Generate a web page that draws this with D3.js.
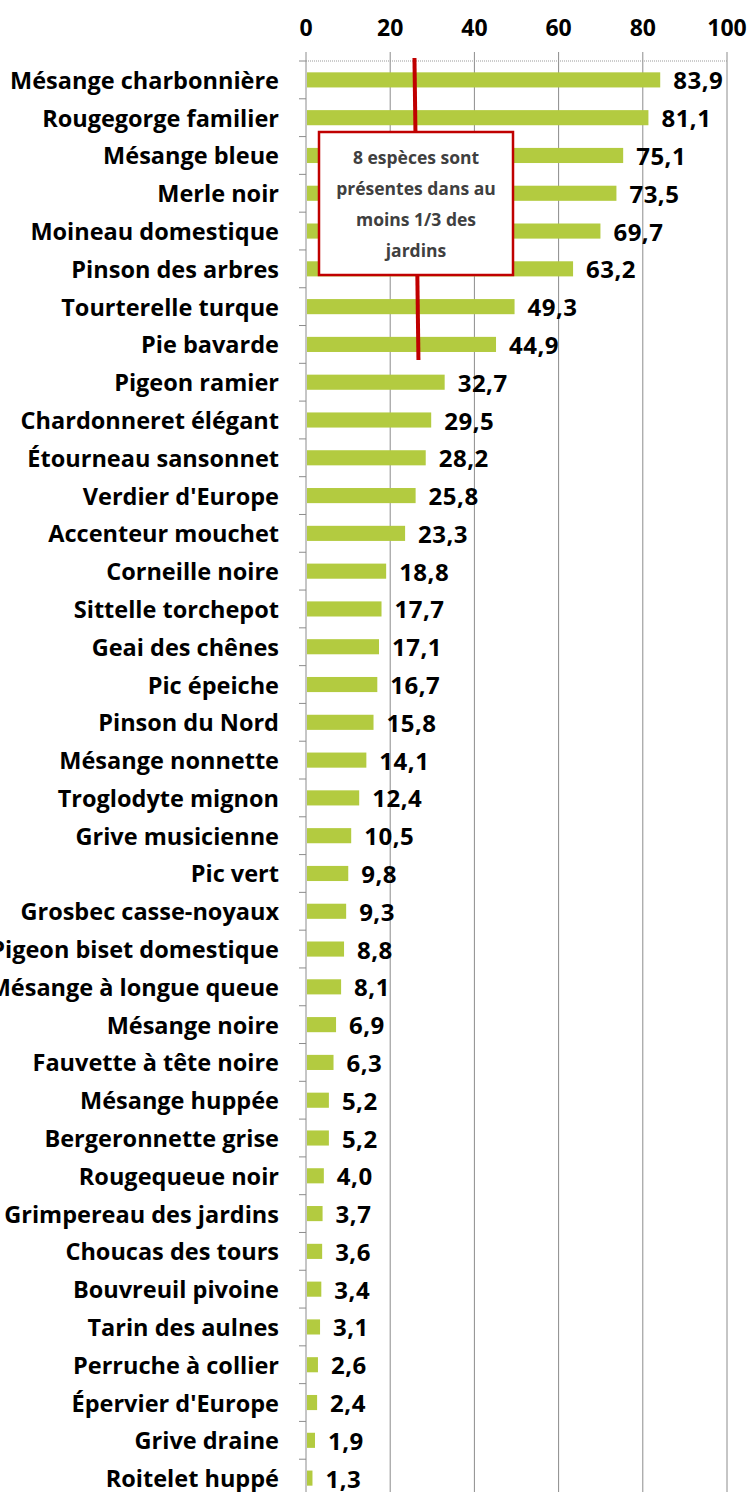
<!DOCTYPE html>
<html>
<head>
<meta charset="utf-8">
<script src="https://cdn.jsdelivr.net/npm/d3@7"></script>
<style>
  body { margin: 0; background: #fff; }
  text { font-family: "Open Sans", sans-serif; font-weight: 700; }
</style>
</head>
<body>
<svg id="chart" width="749" height="1492"></svg>
<script>
// species and share of gardens (%)
const species = [
  "Mésange charbonnière", "Rougegorge familier", "Mésange bleue", "Merle noir",
  "Moineau domestique", "Pinson des arbres", "Tourterelle turque", "Pie bavarde",
  "Pigeon ramier", "Chardonneret élégant", "Étourneau sansonnet", "Verdier d'Europe",
  "Accenteur mouchet", "Corneille noire", "Sittelle torchepot", "Geai des chênes",
  "Pic épeiche", "Pinson du Nord", "Mésange nonnette", "Troglodyte mignon",
  "Grive musicienne", "Pic vert", "Grosbec casse-noyaux", "Pigeon biset domestique",
  "Mésange à longue queue", "Mésange noire", "Fauvette à tête noire", "Mésange huppée",
  "Bergeronnette grise", "Rougequeue noir", "Grimpereau des jardins", "Choucas des tours",
  "Bouvreuil pivoine", "Tarin des aulnes", "Perruche à collier", "Épervier d'Europe",
  "Grive draine", "Roitelet huppé"
];
const values = [
  83.9, 81.1, 75.1, 73.5, 69.7, 63.2, 49.3, 44.9,
  32.7, 29.5, 28.2, 25.8, 23.3, 18.8, 17.7, 17.1,
  16.7, 15.8, 14.1, 12.4, 10.5, 9.8, 9.3, 8.8,
  8.1, 6.9, 6.3, 5.2, 5.2, 4.0, 3.7, 3.6,
  3.4, 3.1, 2.6, 2.4, 1.9, 1.3
];
const xTicks = [0, 20, 40, 60, 80, 100];
const noteLines = ["8 espèces sont", "présentes dans au", "moins 1/3 des", "jardins"];
const noteValue = 26; // where the red marker crosses the axis

const data = species.map((s, i) => ({name: s, value: values[i]}));

const svg = d3.select('#chart');
const plotL = 306, plotR = 727, plotT = 61, plotB = 1497;

const x = d3.scaleLinear().domain([0, 100]).range([plotL, plotR]);
const y = d3.scaleBand().domain(species).range([plotT, plotB]);
const fmt = d => d.toFixed(1).replace('.', ',');

// vertical gridlines
svg.append('g')
  .selectAll('line')
  .data(xTicks.slice(1))
  .enter().append('line')
  .attr('x1', d => x(d)).attr('x2', d => x(d))
  .attr('y1', plotT - 9).attr('y2', plotB)
  .attr('stroke', '#8c8c8c').attr('stroke-width', 1);

// top axis (dotted line) + labels
svg.append('line')
  .attr('x1', plotL).attr('x2', plotR)
  .attr('y1', plotT).attr('y2', plotT)
  .attr('stroke', '#999').attr('stroke-dasharray', '1,1');

svg.append('g')
  .selectAll('text')
  .data(xTicks)
  .enter().append('text')
  .attr('x', d => x(d))
  .attr('y', 27)
  .attr('text-anchor', 'middle')
  .attr('dominant-baseline', 'central')
  .attr('font-size', 23)
  .attr('fill', '#000')
  .text(d => d);

// category axis
svg.append('line')
  .attr('x1', plotL).attr('x2', plotL)
  .attr('y1', plotT - 9).attr('y2', plotB)
  .attr('stroke', '#8c8c8c');

svg.append('g')
  .selectAll('line')
  .data(species)
  .enter().append('line')
  .attr('x1', plotL - 7).attr('x2', plotL)
  .attr('y1', d => y(d)).attr('y2', d => y(d))
  .attr('stroke', '#8c8c8c');

svg.append('g')
  .selectAll('text')
  .data(data)
  .enter().append('text')
  .attr('x', 279)
  .attr('y', d => y(d.name) + y.bandwidth() / 2)
  .attr('text-anchor', 'end')
  .attr('dominant-baseline', 'central')
  .attr('font-size', 23.5)
  .attr('fill', '#000')
  .text(d => d.name);

// bars
const barH = y.bandwidth() * 0.4;
svg.append('g')
  .selectAll('rect')
  .data(data)
  .enter().append('rect')
  .attr('x', x(0) + 1)
  .attr('y', d => y(d.name) + (y.bandwidth() - barH) / 2)
  .attr('width', d => x(d.value) - x(0))
  .attr('height', barH)
  .attr('fill', '#b3cb40');

// value labels
svg.append('g')
  .selectAll('text')
  .data(data)
  .enter().append('text')
  .attr('x', d => x(d.value) + 14)
  .attr('y', d => y(d.name) + y.bandwidth() / 2)
  .attr('dominant-baseline', 'central')
  .attr('font-size', 24)
  .attr('letter-spacing', 0.5)
  .attr('fill', '#000')
  .text(d => fmt(d.value));

// annotation: red marker + box
svg.append('line')
  .attr('x1', x(noteValue) - 1).attr('y1', 58)
  .attr('x2', x(noteValue) + 3).attr('y2', 360)
  .attr('stroke', '#c00000').attr('stroke-width', 4);

svg.append('rect')
  .attr('x', 319).attr('y', 132)
  .attr('width', 194).attr('height', 143)
  .attr('fill', '#fff')
  .attr('stroke', '#c00000').attr('stroke-width', 2.5);

svg.append('g')
  .selectAll('text')
  .data(noteLines)
  .enter().append('text')
  .attr('x', 416)
  .attr('y', (d, i) => 157 + i * 31)
  .attr('text-anchor', 'middle')
  .attr('dominant-baseline', 'central')
  .attr('font-size', 17.5)
  .attr('fill', '#404040')
  .text(d => d);
</script>
</body>
</html>
